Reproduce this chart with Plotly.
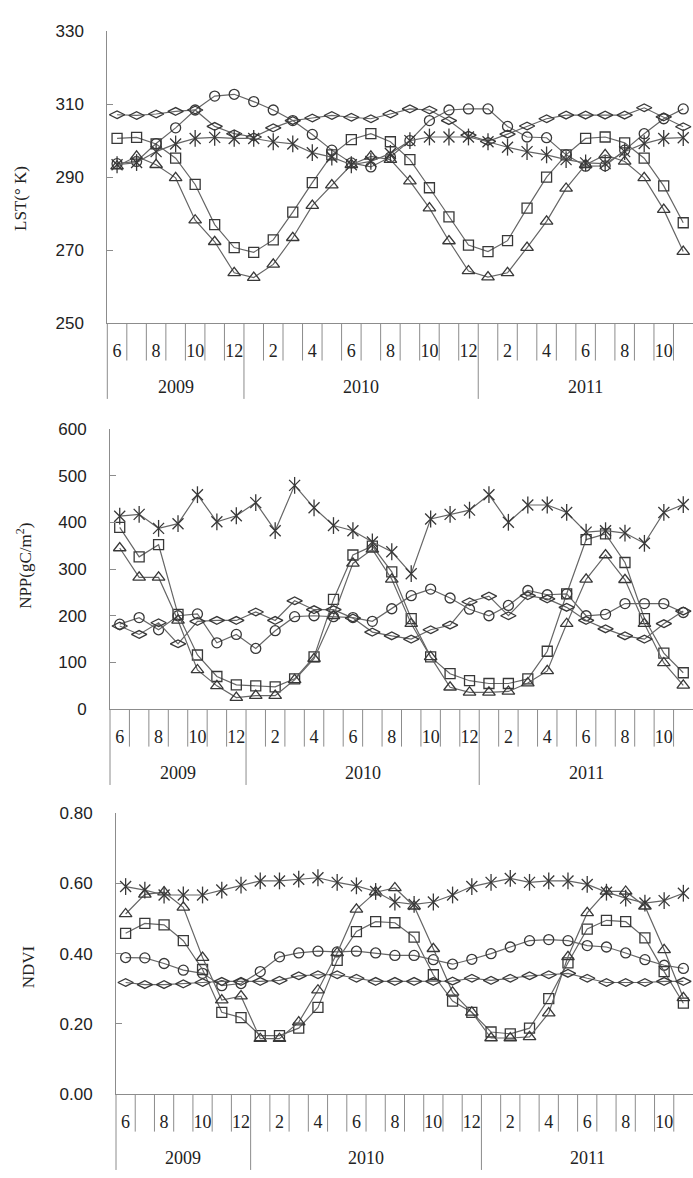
import plotly.graph_objects as go

# ---------------- data ----------------
months = [6, 7, 8, 9, 10, 11, 12,
          1, 2, 3, 4, 5, 6, 7, 8, 9, 10, 11, 12,
          1, 2, 3, 4, 5, 6, 7, 8, 9, 10, 11]
year_labels = ["2009", "2010", "2011"]
year_sizes = [7, 12, 11]

lst_circle = [293.7, 294.3, 299.2, 303.5, 308.4, 312.2, 312.7, 310.7, 308.4, 305.5,
              301.7, 297.4, 293.9, 292.8, 295.5, 300.0, 305.5, 308.4, 308.7, 308.7,
              303.9, 301.0, 300.8, 296.1, 293.0, 293.1, 297.4, 301.9, 306.0, 308.7]
lst_square = [300.6, 300.9, 299.1, 295.2, 288.0, 277.0, 270.7, 269.4, 272.8, 280.4,
              288.5, 296.1, 300.3, 301.9, 299.7, 294.8, 287.1, 279.1, 271.4, 269.6,
              272.6, 281.5, 290.0, 296.1, 300.6, 301.0, 299.4, 295.2, 287.6, 277.5]
lst_triangle = [293.0, 295.7, 293.4, 289.8, 278.2, 272.3, 263.8, 262.5, 266.1, 273.4,
                282.2, 287.8, 293.4, 295.7, 294.8, 288.9, 281.5, 272.5, 264.3, 262.6,
                263.8, 270.7, 277.9, 286.9, 293.4, 296.1, 294.3, 289.8, 281.1, 269.6]
lst_diamond = [307.1, 306.9, 307.3, 308.0, 308.4, 303.9, 301.9, 301.0, 303.5, 305.5,
               306.2, 306.9, 306.4, 306.0, 307.3, 308.7, 308.4, 305.5, 301.5, 299.8,
               301.8, 304.0, 306.0, 307.0, 307.0, 307.0, 307.0, 309.0, 306.5, 303.8]
lst_star = [293.4, 294.0, 297.0, 299.1, 300.6, 300.9, 300.6, 300.6, 299.7, 299.1,
            296.7, 295.5, 293.4, 294.3, 296.5, 300.0, 301.0, 301.0, 301.0, 299.7,
            298.2, 297.0, 296.1, 294.8, 293.9, 293.7, 297.0, 299.2, 300.6, 300.8]

npp_circle = [182, 196, 170, 200, 204, 142, 160, 130, 168, 198,
              200, 198, 196, 188, 215, 243, 257, 238, 214, 200,
              222, 254, 245, 247, 200, 203, 226, 226, 226, 207]
npp_square = [389, 326, 352, 203, 116, 70, 52, 50, 48, 65,
              112, 235, 330, 349, 294, 194, 112, 76, 61, 55,
              55, 65, 124, 247, 363, 375, 314, 194, 120, 78]
npp_triangle = [345, 282, 282, 190, 84, 50, 25, 29, 29, 63,
                108, 200, 312, 342, 278, 183, 112, 47, 36, 36,
                38, 56, 82, 183, 278, 330, 277, 183, 99, 51]
npp_diamond = [178, 160, 185, 140, 188, 190, 190, 208, 190, 232,
               213, 213, 195, 165, 157, 150, 170, 180, 230, 242,
               200, 243, 236, 218, 190, 172, 157, 150, 183, 210]
npp_star = [413, 417, 387, 397, 459, 401, 414, 442, 382, 479,
            431, 393, 382, 358, 337, 290, 407, 417, 426, 459,
            400, 437, 437, 421, 379, 382, 377, 355, 421, 438]

ndvi_circle = [0.389, 0.388, 0.372, 0.353, 0.344, 0.309, 0.315, 0.349, 0.391, 0.402,
               0.407, 0.405, 0.407, 0.402, 0.395, 0.395, 0.383, 0.370, 0.384, 0.400,
               0.419, 0.437, 0.440, 0.437, 0.423, 0.419, 0.402, 0.383, 0.367, 0.358]
ndvi_square = [0.458, 0.486, 0.482, 0.437, 0.355, 0.233, 0.218, 0.167, 0.167, 0.188,
               0.247, 0.381, 0.463, 0.491, 0.488, 0.447, 0.340, 0.265, 0.233, 0.177,
               0.172, 0.188, 0.272, 0.374, 0.470, 0.495, 0.491, 0.445, 0.349, 0.259]
ndvi_triangle = [0.513, 0.569, 0.575, 0.532, 0.389, 0.268, 0.279, 0.158, 0.158, 0.205,
                 0.296, 0.402, 0.526, 0.575, 0.587, 0.535, 0.414, 0.290, 0.233, 0.160,
                 0.160, 0.163, 0.231, 0.391, 0.516, 0.577, 0.577, 0.535, 0.411, 0.274]
ndvi_diamond = [0.318, 0.312, 0.312, 0.314, 0.318, 0.321, 0.321, 0.321, 0.324, 0.337,
                0.340, 0.340, 0.330, 0.321, 0.321, 0.321, 0.321, 0.322, 0.330, 0.324,
                0.330, 0.337, 0.340, 0.344, 0.330, 0.318, 0.318, 0.318, 0.321, 0.321]
ndvi_star = [0.591, 0.581, 0.567, 0.567, 0.567, 0.581, 0.595, 0.607, 0.607, 0.612,
             0.616, 0.603, 0.593, 0.577, 0.547, 0.540, 0.547, 0.567, 0.591, 0.603,
             0.614, 0.603, 0.607, 0.607, 0.597, 0.575, 0.558, 0.544, 0.551, 0.572]

# ---------------- styling ----------------
W, H = 693, 1178
SERIF = "Liberation Serif"
SANS = "Liberation Sans"
MK = "#383838"
LN = "#666666"
AX = "#8c8c8c"

n = len(months)
xs = list(range(n))
label_idx = [i for i, m in enumerate(months) if m % 2 == 0]
label_txt = [str(months[i]) for i in label_idx]

# panel pixel boxes
panels = [
    dict(left=107.3, top=22.5, bottom=319.3, rng=[250, 330], dtick=20, fmt="d",
         series=[lst_circle, lst_square, lst_triangle, lst_diamond, lst_star],
         title="LST(° K)", tx=21, ty=193),
    dict(left=110.0, top=426.7, bottom=711.7, rng=[0, 600], dtick=100, fmt="d",
         series=[npp_circle, npp_square, npp_triangle, npp_diamond, npp_star],
         title="NPP(gC/m<sup>2</sup>)", tx=24, ty=566),
    dict(left=116.0, top=817.3, bottom=1103.0, rng=[0, 0.8], dtick=0.2, fmt=".2f",
         series=[ndvi_circle, ndvi_square, ndvi_triangle, ndvi_diamond, ndvi_star],
         title="NDVI", tx=28, ty=974),
]

symbols = ["circle-open", "square-open", "triangle-up-open", "diamond-wide-open", "x-thin-open"]
sizes = [10, 10, 11, 11, 11]
names = ["circle", "square", "triangle", "diamond", "star"]

fig = go.Figure()
layout = dict(width=W, height=H, margin=dict(l=0, r=0, t=0, b=0),
              paper_bgcolor="white", plot_bgcolor="white", showlegend=False)
shapes = []
annotations = []

for p_i, p in enumerate(panels):
    sfx = "" if p_i == 0 else str(p_i + 1)
    xa, ya = "x" + sfx, "y" + sfx
    for s_i, ys in enumerate(p["series"]):
        fig.add_trace(go.Scatter(
            x=xs, y=ys, mode="lines+markers", name=names[s_i],
            xaxis=xa, yaxis=ya,
            line=dict(color=LN, width=1.2),
            marker=dict(symbol=symbols[s_i], size=sizes[s_i],
                        color=MK, line=dict(color=MK, width=1.3)),
            cliponaxis=False,
        ))
        if names[s_i] == "star":
            fig.add_trace(go.Scatter(
                x=xs, y=ys, mode="markers", name="star-v",
                xaxis=xa, yaxis=ya,
                marker=dict(symbol="line-ns-open", size=12,
                            color=MK, line=dict(color=MK, width=1.3)),
                cliponaxis=False, hoverinfo="skip",
            ))
    x0 = p["left"] / W
    y_top = 1 - p["top"] / H
    y_bot = 1 - p["bottom"] / H
    ph = p["bottom"] - p["top"]
    layout["xaxis" + sfx] = dict(
        domain=[x0, 1.0], range=[-0.5, n - 0.5], anchor=ya,
        showgrid=False, zeroline=False, showline=True, linecolor=AX, linewidth=1,
        tickmode="array", tickvals=label_idx, ticktext=label_txt, ticks="",
        ticklabelstandoff=11,
        tickfont=dict(family=SERIF, size=18, color="#222222"),
    )
    layout["yaxis" + sfx] = dict(
        domain=[y_bot, y_top], range=p["rng"], anchor=xa,
        showgrid=False, zeroline=False, showline=True, linecolor=AX, linewidth=1,
        tickmode="linear", tick0=p["rng"][0], dtick=p["dtick"], tickformat=p["fmt"],
        ticks="inside", ticklen=6, tickcolor=AX,
        ticklabelstandoff=19,
        tickfont=dict(family=SANS, size=17, color="#222222"),
    )
    # separators below the axis
    bounds = [0]
    for sz in year_sizes:
        bounds.append(bounds[-1] + sz)
    year_bounds = set(bounds[:-1])
    for b in range(n):
        depth = 77 if b in year_bounds else 38
        shapes.append(dict(type="line", xref=xa + " domain", yref=ya + " domain",
                           x0=b / n, x1=b / n, y0=0, y1=-depth / ph,
                           line=dict(color=AX, width=1)))
    # year labels
    start = 0
    for lab, sz in zip(year_labels, year_sizes):
        annotations.append(dict(text=lab, xref=xa, yref=ya + " domain",
                                x=start + (sz - 1) / 2, y=-65 / ph, showarrow=False,
                                xanchor="center", yanchor="middle",
                                font=dict(family=SERIF, size=18, color="#222222")))
        start += sz
    # y-axis title
    annotations.append(dict(text=p["title"], xref="paper", yref="paper",
                            x=p["tx"] / W, y=1 - p["ty"] / H, textangle=-90,
                            showarrow=False, xanchor="center", yanchor="middle",
                            font=dict(family=SERIF, size=17, color="#222222")))

layout["shapes"] = shapes
layout["annotations"] = annotations
fig.update_layout(**layout)
fig.write_html("out.html")
